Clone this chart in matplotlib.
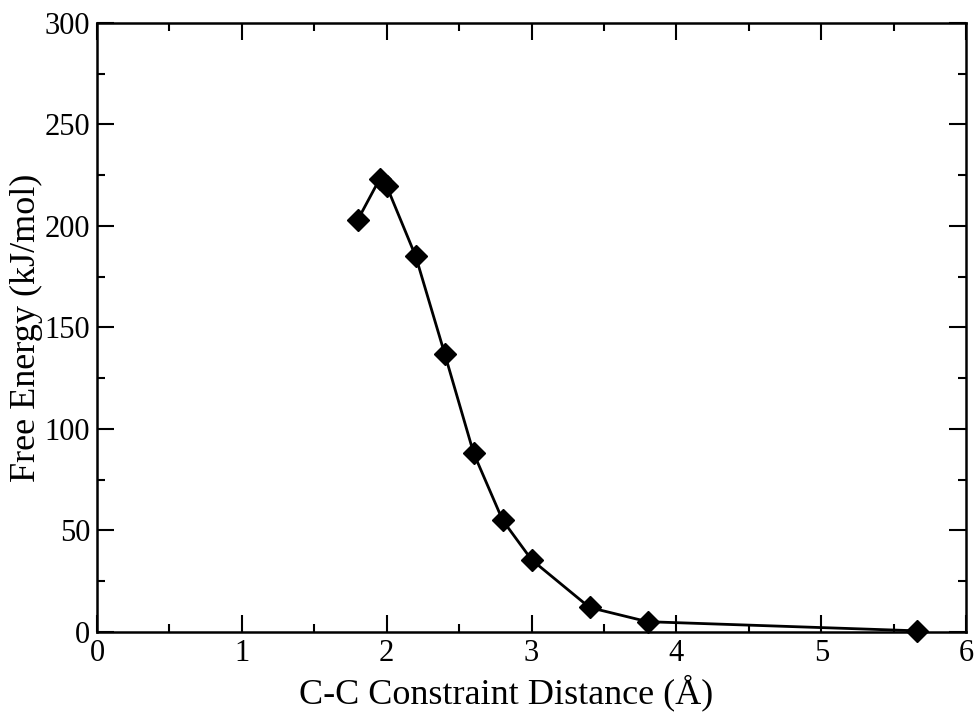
import numpy as np
import matplotlib
matplotlib.use("Agg")
import matplotlib.pyplot as plt
from matplotlib.ticker import MultipleLocator

# C-C constraint distance (Angstrom) and free energy (kJ/mol)
distance = [1.8, 1.95, 2.0, 2.2, 2.4, 2.6, 2.8, 3.0, 3.4, 3.8, 5.66]
free_energy = [203, 223, 219.5, 185, 137, 88, 55, 35.5, 12, 5, 0.5]

plt.rcParams['font.family'] = ['Liberation Serif', 'DejaVu Serif']

fig = plt.figure(figsize=(9.75, 7.18), dpi=100)
ax = fig.add_axes([0.0995, 0.12, 0.8915, 0.848])

ax.plot(distance, free_energy, color='black', lw=2, marker='D', ms=11,
        markerfacecolor='black', markeredgecolor='black', clip_on=False, zorder=3)

ax.set_xlim(0, 6)
ax.set_ylim(0, 300)
ax.xaxis.set_major_locator(MultipleLocator(1))
ax.xaxis.set_minor_locator(MultipleLocator(0.5))
ax.yaxis.set_major_locator(MultipleLocator(50))
ax.yaxis.set_minor_locator(MultipleLocator(25))
ax.tick_params(which='both', direction='in', top=True, right=True, width=1.5,
               labelsize=22, pad=5)
ax.tick_params(which='major', length=12)
ax.tick_params(which='minor', length=6)
for sp in ax.spines.values():
    sp.set_linewidth(1.8)

ax.set_xlabel('C-C Constraint Distance (\u00c5)', fontsize=26, labelpad=4)
ax.xaxis.set_label_coords(0.471, -0.07)
ax.set_ylabel('Free Energy (kJ/mol)', fontsize=26, labelpad=0)
ax.yaxis.set_label_coords(-0.062, 0.5)

fig.savefig('out.png', dpi=100)
